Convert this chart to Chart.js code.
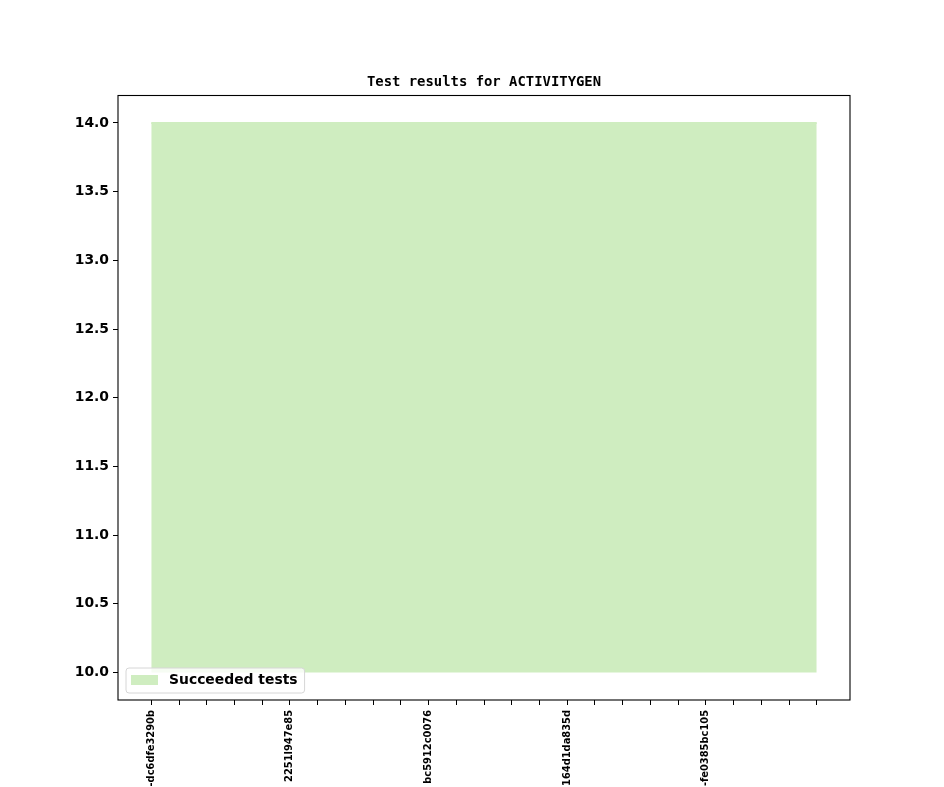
<!DOCTYPE html>
<html>
<head>
<meta charset="utf-8">
<script src="https://cdn.jsdelivr.net/npm/chart.js@4/dist/chart.umd.min.js"></script>
<style>
  html, body { margin: 0; padding: 0; background: #fff; }
  #wrap { width: 944px; height: 787px; }
</style>
</head>
<body>
<div id="wrap"><canvas id="chart"></canvas></div>
<script>
// commit labels (only every 5th run is labelled on the axis)
const runLabels = [
    '-dc6dfe3290b', '', '', '', '',
    '2251l947e85', '', '', '', '',
    'bc5912c0076', '', '', '', '',
    '164d1da835d', '', '', '', '',
    '-fe0385bc105', '', '', '', ''
];
const succeededTop = [14, 14, 14, 14, 14, 14, 14, 14, 14, 14, 14, 14, 14, 14, 14, 14, 14, 14, 14, 14, 14, 14, 14, 14, 14];
const baseline = 10;
const yTicks = [10.0, 10.5, 11.0, 11.5, 12.0, 12.5, 13.0, 13.5, 14.0];
const chartTitle = 'Test results for ACTIVITYGEN';

const fillColor = 'rgb(207,237,192)';

// title centred over the plot area
const plotTitle = {
    id: 'plotTitle',
    afterDraw(chart) {
        const ctx = chart.ctx;
        const a = chart.chartArea;
        ctx.save();
        ctx.font = 'bold 13.9px "DejaVu Sans Mono"';
        ctx.fillStyle = '#000';
        ctx.textAlign = 'center';
        ctx.textBaseline = 'middle';
        ctx.fillText(chartTitle, (a.left + a.right) / 2, a.top - 13.5);
        ctx.restore();
    }
};

// legend box drawn inside the plot, lower left, like matplotlib
const insideLegend = {
    id: 'insideLegend',
    afterDraw(chart) {
        const ctx = chart.ctx;
        const area = chart.chartArea;
        const ds = chart.data.datasets[0];
        ctx.save();
        ctx.font = 'bold 13.9px "DejaVu Sans"';
        const tw = ctx.measureText(ds.label).width;
        const x = area.left + 8, y = area.bottom - 32;
        const w = 43 + tw + 7, h = 25;
        ctx.beginPath();
        ctx.roundRect(x, y, w, h, 3);
        ctx.fillStyle = 'rgba(255,255,255,0.8)';
        ctx.fill();
        ctx.strokeStyle = '#d6d6d6';
        ctx.lineWidth = 1;
        ctx.stroke();
        ctx.fillStyle = ds.backgroundColor;
        ctx.fillRect(x + 5, y + 7, 27, 10);
        ctx.fillStyle = '#000';
        ctx.textBaseline = 'middle';
        ctx.fillText(ds.label, x + 43, y + 12.5);
        ctx.restore();
    }
};

// all four spines
const frame = {
    id: 'frame',
    afterDraw(chart) {
        const a = chart.chartArea;
        const ctx = chart.ctx;
        ctx.save();
        ctx.strokeStyle = '#000';
        ctx.lineWidth = 1.1;
        ctx.strokeRect(a.left, a.top, a.right - a.left, a.bottom - a.top);
        ctx.restore();
    }
};

new Chart(document.getElementById('chart'), {
    type: 'line',
    data: {
        datasets: [{
            label: 'Succeeded tests',
            data: succeededTop.map((v, i) => ({ x: i, y: v })),
            backgroundColor: fillColor,
            borderColor: fillColor,
            borderWidth: 2,
            pointRadius: 0,
            tension: 0,
            fill: { value: baseline }
        }]
    },
    options: {
        responsive: true,
        maintainAspectRatio: false,
        animation: false,
        layout: { padding: { left: 0, right: 94, top: 95.5, bottom: 0 } },
        plugins: {
            legend: { display: false },
            tooltip: { enabled: false },
            title: { display: false }
        },
        scales: {
            x: {
                type: 'linear',
                min: -1.2,
                max: runLabels.length - 1 + 1.2,
                afterBuildTicks: s => { s.ticks = runLabels.map((l, i) => ({ value: i })); },
                afterFit: s => { s.height = 87; },
                grid: { drawOnChartArea: false, drawTicks: true, tickLength: 5, tickColor: '#000' },
                border: { display: false },
                ticks: {
                    autoSkip: false,
                    minRotation: 90,
                    maxRotation: 90,
                    padding: 5,
                    color: '#000',
                    font: { family: '"DejaVu Sans"', size: 9.9, weight: 'bold' },
                    callback: v => runLabels[v] ?? ''
                }
            },
            y: {
                min: 9.8,
                max: 14.2,
                afterBuildTicks: s => { s.ticks = yTicks.map(v => ({ value: v })); },
                afterFit: s => { s.width = 118; },
                grid: { drawOnChartArea: false, drawTicks: true, tickLength: 5, tickColor: '#000' },
                border: { display: false },
                ticks: {
                    padding: 4,
                    color: '#000',
                    font: { family: '"DejaVu Sans"', size: 13.9, weight: 'bold' },
                    callback: v => v.toFixed(1)
                }
            }
        }
    },
    plugins: [plotTitle, insideLegend, frame]
});
</script>
</body>
</html>
